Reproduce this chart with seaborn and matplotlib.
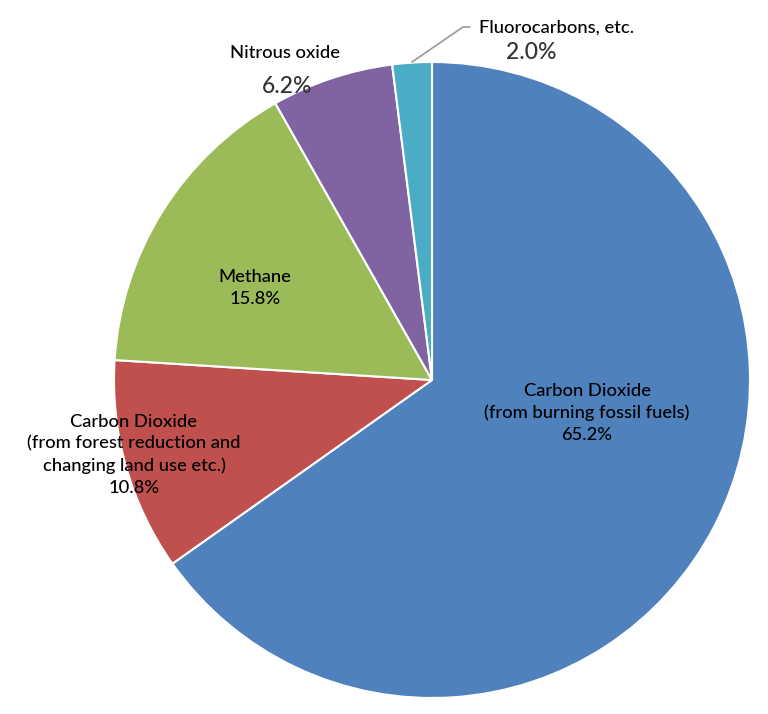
import matplotlib
matplotlib.use("Agg")
import matplotlib.pyplot as plt
import seaborn as sns

categories = ["Carbon Dioxide\n(from burning fossil fuels)",
              "Carbon Dioxide\n(from forest reduction and\nchanging land use etc.)",
              "Methane", "Nitrous oxide", "Fluorocarbons, etc."]
values = [65.2, 10.8, 15.8, 6.2, 2.0]
colors = ["#4F81BD", "#C0504D", "#9BBB59", "#8064A2", "#4BACC6"]

sns.set_theme(style="white")
plt.rcParams['font.family'] = ['Lato', 'DejaVu Sans']

W, H = 768, 714
fig = plt.figure(figsize=(W / 100, H / 100), dpi=100)
cx, cy, r = 432, 380, 318
ax = fig.add_axes([(cx - r) / W, (H - cy - r) / H, 2 * r / W, 2 * r / H])
ax.pie(values, colors=colors, startangle=90, counterclock=False, radius=1,
       wedgeprops=dict(edgecolor="white", linewidth=1.5))
ax.set_xlim(-1, 1)
ax.set_ylim(-1, 1)
ax.set_aspect("auto")
ax.axis("off")

def P(px, py):
    return ((px - cx) / r, (cy - py) / r)

fs = 13.2
kw = dict(ha="center", va="center", fontsize=fs, color="black", linespacing=1.45, fontweight="medium")
ax.text(*P(587, 413), f"{categories[0]}\n{values[0]:.1f}%", **kw)
ax.text(*P(134, 455), f"{categories[1]}\n{values[1]:.1f}%", **kw)
ax.text(*P(255, 288), f"{categories[2]}\n{values[2]:.1f}%", **kw)
ax.text(*P(285, 53), categories[3], **kw)
ax.text(*P(557, 28), categories[4], **kw)
kw2 = dict(ha="center", va="center", fontsize=16.5, color="#333333", fontweight="medium")
ax.text(*P(287, 87), f"{values[3]:.1f}%", **kw2)
ax.text(*P(531, 53), f"{values[4]:.1f}%", **kw2)
x0, y0 = P(412, 62)
x1, y1 = P(463, 27)
x2, y2 = P(470, 27)
ax.plot([x0, x1, x2], [y0, y1, y2], color="#999999", lw=1.2, clip_on=False)

fig.savefig("out.png", dpi=100)
